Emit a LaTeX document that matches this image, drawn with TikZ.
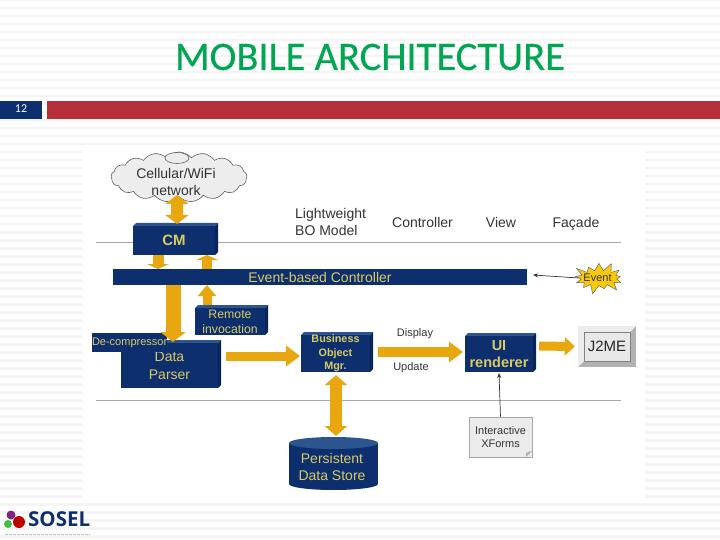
\documentclass[tikz,border=0pt]{standalone}
\usepackage{fontspec}
\setmainfont{Liberation Sans}
\newfontfamily\titlefont[FakeBold=0.4]{Carlito}
\newfontfamily\numfont{Carlito}
\newfontfamily\logofont{Open Sans}
\usetikzlibrary{arrows.meta,shapes.symbols,shapes.geometric,calc}
\definecolor{navy}{HTML}{0E2F6E}
\definecolor{navyside}{HTML}{0A2458}
\definecolor{navytop}{HTML}{2C5590}
\definecolor{gold}{HTML}{E8A60F}
\definecolor{ytext}{HTML}{D9CB63}
\definecolor{stripe}{HTML}{F4F4F5}
\definecolor{rule}{HTML}{A9A9A9}
\definecolor{dtext}{HTML}{333333}
\definecolor{barred}{RGB}{181,48,58}
\definecolor{titlegreen}{RGB}{0,166,81}
\definecolor{burst}{RGB}{250,200,10}
\tikzset{
  x=1pt,y=-1pt,
  face/.style={fill=navy,inner sep=0pt,outer sep=0pt,text=ytext,align=center,font=\fontsize{14}{18}\selectfont},
  blk/.style n args={3}{draw=gold,line width=#1pt,-{Triangle[width=#2pt,length=#3pt]}},
  blkb/.style n args={3}{draw=gold,line width=#1pt,{Triangle[width=#2pt,length=#3pt]}-{Triangle[width=#2pt,length=#3pt]}},
  lab/.style={text=dtext,inner sep=0pt,font=\fontsize{14}{17}\selectfont},
  smalllab/.style={text=dtext,inner sep=0pt,font=\fontsize{11}{13}\selectfont},
  thin arrow/.style={draw=dtext,line width=.7pt,-{Stealth[length=5pt,width=4pt]}},
  sep/.style={draw=rule,line width=.9pt}
}
% name, x1,y1,x2,y2 (front face), node options, text
\newcommand{\slab}[7]{%
  \fill[navytop] (#2,#3) -- (#2+3,#3-3) -- (#4+3,#3-3) -- (#4,#3) -- cycle;
  \fill[navyside] (#4,#3) -- (#4+3,#3-3) -- (#4+3,#5-3) -- (#4,#5) -- cycle;
  \node[face,#6,minimum width=#4-#2,minimum height=#5-#3] (#1) at ({(#2+#4)/2},{(#3+#5)/2}) {#7};
}
\begin{document}
\begin{tikzpicture}
\useasboundingbox (0,0) rectangle (720,540);
\fill[white] (0,0) rectangle (720,540);
\foreach \k in {0,...,67} {\fill[stripe] (0,8*\k-1) rectangle (720,8*\k+1.5);}
% picture panel
\fill[white] (82,145) rectangle (645,500);
% header
\fill[navy] (0,101) rectangle (42,119);
\fill[barred] (47,101) rectangle (720,119);
\node[text=white,inner sep=0pt,font=\numfont\fontsize{12}{12}\selectfont] (pagenum) at (21,109) {12};
\node[inner sep=0pt,text=titlegreen,font=\titlefont\fontsize{40.5}{40}\selectfont] (title) at (370,57) {MOBILE ARCHITECTURE};
% separators
\coordinate (s1a) at (96,242); \coordinate (s1b) at (621,242);
\coordinate (s2a) at (96,400); \coordinate (s2b) at (621,400);
\draw[sep] (s1a) -- (s1b);
\draw[sep] (s2a) -- (s2b);
% labels
\node[lab,anchor=west,align=left] (lw) at (295,222) {Lightweight\\BO Model};
\node[lab,anchor=base] (ctl) at (422.5,227) {Controller};
\node[lab,anchor=base] (vw) at (501,227) {View};
\node[lab,anchor=base] (fa) at (576,227) {Façade};
\node[smalllab] (dsp) at (415,334) {Display};
\node[smalllab] (upd) at (411,368) {Update};
% cloud
\node[cloud,cloud puffs=17,cloud puff arc=100,aspect=2.9,draw=gray!75!black,fill=gray!14,line width=.6pt,minimum width=136pt,minimum height=50pt,inner sep=0pt] (cloud) at (179,177) {};
\node[ellipse,draw=gray!75!black,fill=gray!14,line width=.6pt,minimum width=24pt,minimum height=11pt,inner sep=0pt] (dish) at (177,158) {};
% boxes
\slab{cm}{133}{226}{215}{255}{font=\bfseries\fontsize{15}{16}\selectfont}{CM}
\node[face,minimum width=414pt,minimum height=16pt] (bar) at (320,277) {Event-based Controller};
\slab{dp}{121}{343}{218}{388}{}{Data\\Parser}
\slab{ri}{195}{308}{265}{335}{font=\fontsize{12.3}{15}\selectfont}{Remote\\invocation}
\slab{bo}{301}{335}{370}{372}{font=\bfseries\fontsize{10.8}{13.5}\selectfont}{Business\\Object\\Mgr.}
\slab{ui}{465}{336}{533}{372}{font=\bfseries\fontsize{14.5}{17}\selectfont}{UI\\renderer}
\node[face,anchor=west,minimum width=73pt,minimum height=19pt,font=\fontsize{11}{13}\selectfont] (dc) at (92,342.5) {De-compressor};
% J2ME
\fill[gray!60] (578,326) rectangle (636,367);
\fill[gray!15] (578,326) -- (636,326) -- (630,332) -- (584,332) -- (584,361) -- (578,367) -- cycle;
\node[fill=gray!18,draw=gray,line width=.4pt,minimum width=46pt,minimum height=29pt,inner sep=0pt,text=black!85,font=\fontsize{15}{15}\selectfont] (j2me) at (607,346.5) {J2ME};
% event
\node[starburst,starburst points=13,starburst point height=10pt,fill=burst,draw=gray!70!black,line width=.4pt,minimum width=56pt,minimum height=35pt,inner sep=0pt,text=dtext,font=\fontsize{11}{12}\selectfont] (event) at (599,278) {};
\node[text=dtext,inner sep=0pt,font=\fontsize{11}{12}\selectfont] (eventtext) at (597.5,278) {Event};
\coordinate (bartip) at (533,275);
\draw[thin arrow] (event.west) -- (bartip);
% note
\node[draw=gray!70,fill=gray!16,line width=.6pt,minimum width=63pt,minimum height=40pt,inner sep=0pt,align=center,text=dtext,font=\fontsize{11}{13.5}\selectfont] (note) at (500.5,437) {Interactive\\XForms};
\fill[gray!60] (526,457) -- (532,451) -- (528,452) -- (526,453) -- cycle;
\draw[thin arrow] (note.north) -- ([yshift=-1pt]ui.south);
% cylinder
\fill[navy] (289,443) rectangle (378,484);
\fill[navy] (333.5,484) ellipse [x radius=44.5,y radius=6];
\fill[navytop] (333.5,443) ellipse [x radius=44.5,y radius=6];
\node[inner sep=0pt,outer sep=0pt,minimum width=89pt,minimum height=53pt,text=ytext,align=center,font=\fontsize{14}{17}\selectfont] (db) at (333.5,463.5) {};
\node[text=ytext,inner sep=0pt,align=center,font=\fontsize{14}{17}\selectfont] (dbtext) at (332,467) {Persistent\\Data Store};
% block arrows
\draw[blkb={12}{23}{9}] ([xshift=-2pt,yshift=2pt]cloud.south) -- ([xshift=3pt,yshift=2pt]cm.north);
\draw[blk={11}{22}{5}] ([xshift=-16pt]cm.south) -- ([xshift=-162pt]bar.north);
\draw[blk={10}{22}{5}] ([xshift=-113pt]bar.north) -- ([xshift=33pt]cm.south);
\draw[blk={15}{25}{10}] ([xshift=-147pt]bar.south) -- ([xshift=3.5pt,yshift=1pt]dp.north);
\draw[blk={9}{18}{11}] ([xshift=-23pt,yshift=3pt]ri.north) -- ([xshift=-113pt]bar.south);
\draw[blk={9}{20}{14}] ([xshift=8pt,yshift=9.5pt]dp.east) -- ([xshift=-1pt,yshift=-2.5pt]bo.west);
\draw[blkb={12}{22}{10}] ([xshift=0.5pt,yshift=-3pt]bo.south) -- ([xshift=2.5pt,yshift=1pt]db.north);
\draw[blk={10}{20}{14}] ([xshift=8pt,yshift=1.5pt]bo.east) -- ([xshift=-2pt,yshift=2pt]ui.west);
\draw[blk={9}{18}{10}] ([xshift=6pt,yshift=8pt]ui.east) -- ([xshift=-9pt]j2me.west);
% cloud text above the arrow
\node[lab,align=center,font=\fontsize{14}{17}\selectfont] (cloudtext) at (176,182) {Cellular/WiFi\\network};
% logo
\fill[violet!70!gray] (11,515) circle (4.5);
\fill[green!50!gray] (8,524) circle (4);
\fill[red!75!black] (19,522) circle (6);
\node[anchor=west,inner sep=0pt,text=navy,font=\logofont\bfseries\fontsize{20.5}{21}\selectfont] (sosel) at (28,519) {SOSEL};
\coordinate (tinya) at (5,534.5); \coordinate (tinyb) at (90,534.5);
\draw[gray!50,line width=1.5pt,dash pattern=on 3pt off 1pt] (tinya) -- (tinyb);
\end{tikzpicture}
\end{document}
